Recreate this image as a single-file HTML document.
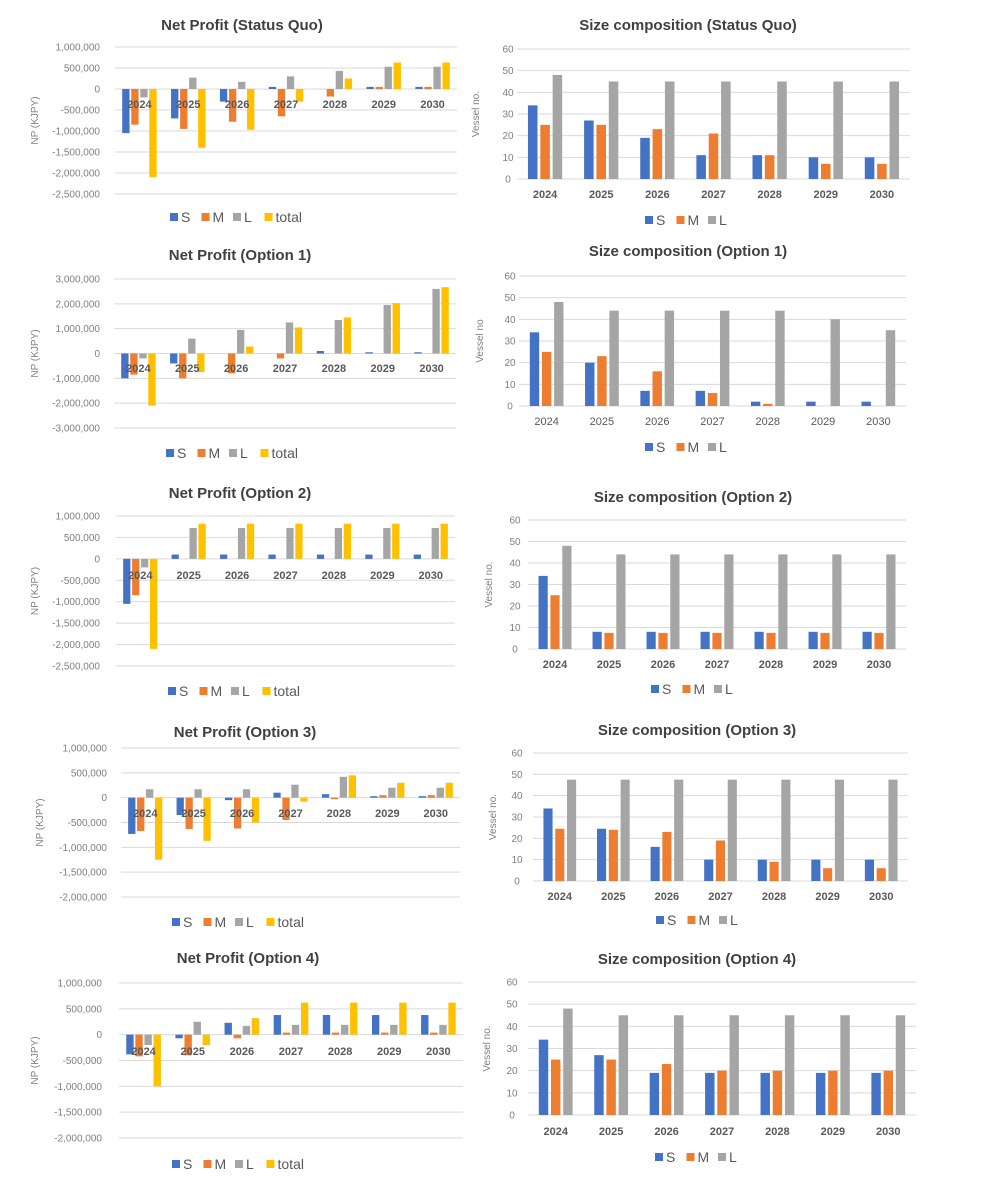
<!DOCTYPE html>
<html><head><meta charset="utf-8"><style>
body{margin:0;background:#fff;}
svg{display:block;font-family:"Liberation Sans",sans-serif;}
</style></head><body>
<svg id="root" width="992" height="1183" viewBox="0 0 992 1183" xmlns="http://www.w3.org/2000/svg"></svg>
<script>
const categories=["2024","2025","2026","2027","2028","2029","2030"];
const npNames=["S","M","L","total"];
const szNames=["S","M","L"];
const npTicks1=[1000000,500000,0,-500000,-1000000,-1500000,-2000000,-2500000];
const npTicksOpt1=[3000000,2000000,1000000,0,-1000000,-2000000,-3000000];
const npTicks3=[1000000,500000,0,-500000,-1000000,-1500000,-2000000];
const szTicks=[60,50,40,30,20,10,0];
// Net profit Status Quo (JPY thousands)
const npSQ_S=[-1050000,-700000,-300000,50000,0,50000,50000];
const npSQ_M=[-850000,-950000,-780000,-650000,-180000,50000,50000];
const npSQ_L=[-200000,270000,170000,300000,430000,530000,530000];
const npSQ_T=[-2100000,-1400000,-970000,-300000,250000,630000,630000];
// Net profit Option 1
const np1_S=[-1000000,-400000,0,0,100000,50000,50000];
const np1_M=[-850000,-1000000,-800000,-200000,0,0,0];
const np1_L=[-200000,600000,950000,1250000,1350000,1950000,2600000];
const np1_T=[-2100000,-750000,280000,1050000,1450000,2030000,2670000];
// Net profit Option 2
const np2_S=[-1050000,100000,100000,100000,100000,100000,100000];
const np2_M=[-850000,0,0,0,0,0,0];
const np2_L=[-200000,720000,720000,720000,720000,720000,720000];
const np2_T=[-2100000,820000,820000,820000,820000,820000,820000];
// Net profit Option 3
const np3_S=[-730000,-350000,-50000,100000,70000,30000,30000];
const np3_M=[-670000,-630000,-620000,-450000,-30000,50000,50000];
const np3_L=[170000,170000,170000,260000,420000,200000,200000];
const np3_T=[-1250000,-870000,-500000,-80000,450000,300000,300000];
// Net profit Option 4
const np4_S=[-380000,-70000,230000,380000,380000,380000,380000];
const np4_M=[-420000,-400000,-70000,40000,40000,40000,40000];
const np4_L=[-200000,250000,170000,190000,190000,190000,190000];
const np4_T=[-1000000,-200000,320000,620000,620000,620000,620000];
// Size composition
const szSQ_S=[34,27,19,11,11,10,10];
const szSQ_M=[25,25,23,21,11,7,7];
const szSQ_L=[48,45,45,45,45,45,45];
const sz1_S=[34,20,7,7,2,2,2];
const sz1_M=[25,23,16,6,1,0,0];
const sz1_L=[48,44,44,44,44,40,35];
const sz2_S=[34,8,8,8,8,8,8];
const sz2_M=[25,7.5,7.5,7.5,7.5,7.5,7.5];
const sz2_L=[48,44,44,44,44,44,44];
const sz3_S=[34,24.5,16,10,10,10,10];
const sz3_M=[24.5,24,23,19,9,6,6];
const sz3_L=[47.5,47.5,47.5,47.5,47.5,47.5,47.5];
const sz4_S=[34,27,19,19,19,19,19];
const sz4_M=[25,25,23,20,20,20,20];
const sz4_L=[48,45,45,45,45,45,45];

const COLORS=["#4472C4","#ED7D31","#A5A5A5","#FFC000"];
const NS="http://www.w3.org/2000/svg";
const root=document.getElementById('root');
function mk(tag,attrs,parent,text){const e=document.createElementNS(NS,tag);for(const k in attrs)e.setAttribute(k,attrs[k]);if(text!==undefined)e.textContent=text;parent.appendChild(e);return e;}
function fmt(v){return v.toLocaleString('en-US');}

function drawChart(c,series,names,ticks){
  const g=mk('g',{},root);
  
  
  const tmax=ticks[0],tmin=ticks[ticks.length-1];
  const yS=v=>c.yTop+(tmax-v)/(tmax-tmin)*(c.yBot-c.yTop);
  const cw=(c.x1-c.x0)/categories.length;
  const xS=i=>c.x0+cw*(i+0.5);
  const t=mk('text',{x:c.titleX,y:c.titleY,'text-anchor':'middle','font-size':15,'font-weight':'bold',fill:'#404040'},g,c.title);
  
  
  ticks.forEach(v=>{
    const l=mk('line',{x1:c.x0,x2:c.x1,y1:yS(v),y2:yS(v),stroke:'#d9d9d9','stroke-width':1},g);
    
    
    const tx=mk('text',{x:c.tickX,y:yS(v)+3.5,'text-anchor':c.tickAnchor,'font-size':10,fill:'#7f7f7f'},g,fmt(v));
    
    
  });
  const at=mk('text',{x:0,y:0,'text-anchor':'middle','font-size':10,fill:'#7f7f7f',transform:`translate(${c.axisX},${(c.yTop+c.yBot)/2}) rotate(-90)`},g,c.axisTitle);
  
  
  const bw=cw*c.bf,st=cw*c.sf,n=series.length;
  const y0=yS(0);
  series.forEach((arr,si)=>{
    arr.forEach((v,i)=>{
      const cx=xS(i)+(si-(n-1)/2)*st;
      const y=yS(v);
      const r=mk('rect',{x:cx-bw/2,y:Math.min(y,y0),width:bw,height:Math.max(Math.abs(y0-y),0.01),fill:COLORS[si]},g);
      
      
    });
  });
  categories.forEach((cat,i)=>{
    const tx=mk('text',{x:xS(i),y:c.catY+4,'text-anchor':'middle','font-size':11,'font-weight':c.catBold?'bold':'normal',fill:'#595959'},g,cat);
    
    
  });
  let lx=c.legX;
  names.forEach((nm,si)=>{
    const sq=mk('rect',{x:lx,y:c.legY-4,width:8,height:8,fill:COLORS[si]},g);
    
    
    const tx=mk('text',{x:lx+11,y:c.legY+5,'font-size':14,fill:'#595959'},g,nm);
    
    
    lx+=11+nm.length*8.5+12;
  });
}
const NPBF=0.15,NPSF=0.185,SZBF=0.17,SZSF=0.22;
drawChart({id:'np-status-quo',title:'Net Profit (Status Quo)',titleX:242,titleY:30,x0:115,x1:457,yTop:47,yBot:194,tickX:100,tickAnchor:'end',axisX:38,axisTitle:'NP (KJPY)',catY:104,catBold:true,legX:170,legY:217,bf:NPBF,sf:NPSF},[npSQ_S,npSQ_M,npSQ_L,npSQ_T],npNames,npTicks1);
drawChart({id:'size-status-quo',title:'Size composition (Status Quo)',titleX:688,titleY:30,x0:517,x1:910,yTop:49,yBot:179,tickX:508,tickAnchor:'middle',axisX:479,axisTitle:'Vessel no.',catY:194,catBold:true,legX:645,legY:220,bf:SZBF,sf:SZSF},[szSQ_S,szSQ_M,szSQ_L],szNames,szTicks);
drawChart({id:'np-option-1',title:'Net Profit (Option 1)',titleX:240,titleY:260,x0:114,x1:456,yTop:279,yBot:428,tickX:100,tickAnchor:'end',axisX:38,axisTitle:'NP (KJPY)',catY:368,catBold:true,legX:166,legY:453,bf:NPBF,sf:NPSF},[np1_S,np1_M,np1_L,np1_T],npNames,npTicksOpt1);
drawChart({id:'size-option-1',title:'Size composition (Option 1)',titleX:688,titleY:256,x0:519,x1:906,yTop:276,yBot:406,tickX:510,tickAnchor:'middle',axisX:483,axisTitle:'Vessel no',catY:421,catBold:false,legX:645,legY:447,bf:SZBF,sf:SZSF},[sz1_S,sz1_M,sz1_L],szNames,szTicks);
drawChart({id:'np-option-2',title:'Net Profit (Option 2)',titleX:240,titleY:498,x0:116,x1:455,yTop:516,yBot:666,tickX:100,tickAnchor:'end',axisX:38,axisTitle:'NP (KJPY)',catY:575,catBold:true,legX:168,legY:691,bf:NPBF,sf:NPSF},[np2_S,np2_M,np2_L,np2_T],npNames,npTicks1);
drawChart({id:'size-option-2',title:'Size composition (Option 2)',titleX:693,titleY:502,x0:528,x1:906,yTop:520,yBot:649,tickX:515,tickAnchor:'middle',axisX:492,axisTitle:'Vessel no.',catY:664,catBold:true,legX:651,legY:689,bf:SZBF,sf:SZSF},[sz2_S,sz2_M,sz2_L],szNames,szTicks);
drawChart({id:'np-option-3',title:'Net Profit (Option 3)',titleX:245,titleY:737,x0:121,x1:460,yTop:748,yBot:897,tickX:107,tickAnchor:'end',axisX:43,axisTitle:'NP (KJPY)',catY:813,catBold:true,legX:172,legY:922,bf:NPBF,sf:NPSF},[np3_S,np3_M,np3_L,np3_T],npNames,npTicks3);
drawChart({id:'size-option-3',title:'Size composition (Option 3)',titleX:697,titleY:735,x0:533,x1:908,yTop:753,yBot:881,tickX:517,tickAnchor:'middle',axisX:496,axisTitle:'Vessel no.',catY:896,catBold:true,legX:656,legY:920,bf:SZBF,sf:SZSF},[sz3_S,sz3_M,sz3_L],szNames,szTicks);
drawChart({id:'np-option-4',title:'Net Profit (Option 4)',titleX:248,titleY:963,x0:119,x1:463,yTop:983,yBot:1138,tickX:102,tickAnchor:'end',axisX:38,axisTitle:'NP (KJPY)',catY:1051,catBold:true,legX:172,legY:1164,bf:NPBF,sf:NPSF},[np4_S,np4_M,np4_L,np4_T],npNames,npTicks3);
drawChart({id:'size-option-4',title:'Size composition (Option 4)',titleX:697,titleY:964,x0:528,x1:916,yTop:982,yBot:1115,tickX:512,tickAnchor:'middle',axisX:490,axisTitle:'Vessel no.',catY:1131,catBold:true,legX:655,legY:1157,bf:SZBF,sf:SZSF},[sz4_S,sz4_M,sz4_L],szNames,szTicks);
</script>
</body></html>
